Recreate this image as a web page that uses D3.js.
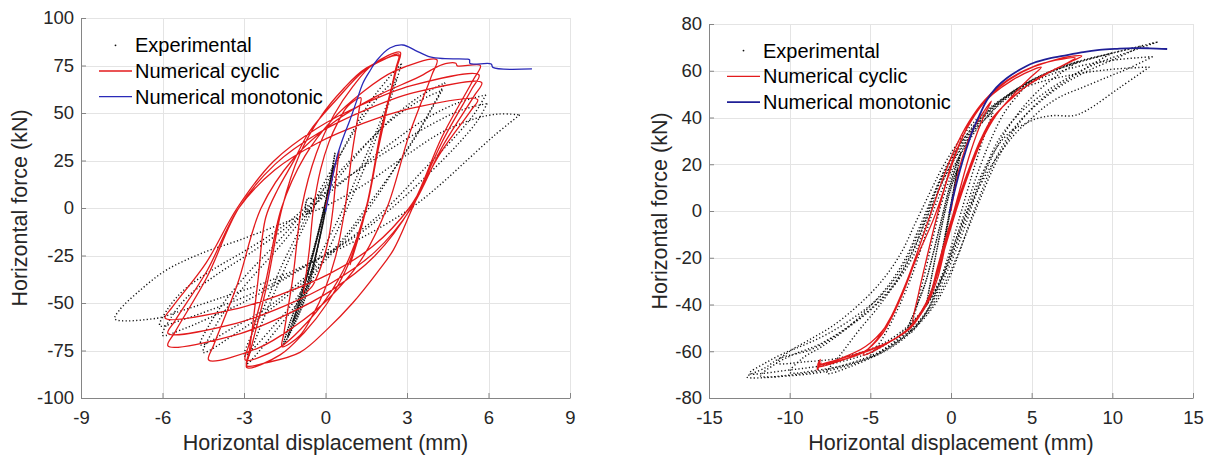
<!DOCTYPE html>
<html><head><meta charset="utf-8">
<script src="https://cdn.jsdelivr.net/npm/d3@7"></script>
<style>
html,body{margin:0;padding:0;background:#fff;}
svg{display:block;font-family:"Liberation Sans",Arial,sans-serif;}
</style></head><body>
<svg id="chart" width="1209" height="455"></svg>
<script>
// ---------- tick labels ----------
const leftXTicks = [-9,-6,-3,0,3,6,9];
const leftYTicks = [-100,-75,-50,-25,0,25,50,75,100];
const rightXTicks = [-15,-10,-5,0,5,10,15];
const rightYTicks = [-80,-60,-40,-20,0,20,40,60,80];
const legendLabels = ["Experimental","Numerical cyclic","Numerical monotonic"];
const xTitle = "Horizontal displacement (mm)";
const yTitle = "Horizontal force (kN)";

// ---------- left panel data (displacement mm, force kN) ----------
// small early cycles, densely recorded (appear almost solid)
const leftExperimentalInner = [
  [[0.35,29],[0.2,15],[0,0],[-0.25,-18],[-0.55,-38],[-0.95,-55],[-1.55,-72],[-1.3,-60],[-0.9,-44],[-0.5,-25],[-0.15,-6],[0.1,10],[0.35,29]],
  [[0.2,15],[0.05,3],[-0.2,-15],[-0.5,-33],[-0.9,-51],[-1.4,-68],[-1.1,-55],[-0.7,-37],[-0.35,-18],[-0.05,0],[0.2,15]],
  [[0.3,22],[0.12,8],[-0.15,-12],[-0.5,-32],[-0.85,-47],[-1.2,-60],[-0.95,-49],[-0.6,-32],[-0.25,-13],[0.05,5],[0.3,22]],
  [[-0.75,0],[-0.65,5],[-0.45,4.5],[-0.45,-1],[-0.65,-2],[-0.75,0]]
];
const leftExperimental = [
  [[2.8,76],[2.5,62],[2.0,42],[1.4,20],[0.8,0],[0.1,-22],[-0.8,-45],[-1.8,-64],[-2.9,-82],[-2.6,-70],[-2.1,-52],[-1.5,-32],[-0.8,-10],[0,12],[0.8,35],[1.6,55],[2.3,68],[2.8,76]],
  [[2.6,68],[2.3,56],[1.8,38],[1.2,18],[0.6,-2],[-0.1,-22],[-0.9,-44],[-1.9,-62],[-3.0,-78],[-2.7,-66],[-2.2,-50],[-1.6,-30],[-0.9,-10],[-0.1,12],[0.7,32],[1.5,50],[2.1,61],[2.6,68]],
  [[4.4,66],[4.0,55],[3.4,40],[2.6,22],[1.8,4],[0.8,-15],[-0.6,-36],[-2,-53],[-3.2,-65],[-4.5,-76],[-4.2,-66],[-3.6,-52],[-2.8,-38],[-1.8,-22],[-0.8,-5],[0.3,13],[1.4,32],[2.5,48],[3.5,59],[4.4,66]],
  [[4.3,62],[3.9,52],[3.3,37],[2.5,20],[1.6,2],[0.6,-17],[-0.8,-37],[-2.2,-53],[-3.4,-63],[-4.6,-72],[-4.3,-62],[-3.7,-49],[-2.9,-35],[-1.9,-20],[-0.9,-4],[0.2,14],[1.3,31],[2.4,46],[3.4,56],[4.3,62]],
  [[5.9,59.5],[5.5,50],[4.8,38],[3.6,20],[2.4,2],[1,-15],[-1,-33],[-2.8,-48],[-4.3,-58],[-5.2,-63.5],[-6,-67],[-5.7,-58],[-5.1,-47],[-4,-35],[-2.8,-24],[-1.5,-11],[-0.3,3],[1,18],[2.4,34],[3.7,47],[4.9,55.5],[5.9,59.5]],
  [[5.95,55],[5.6,46],[4.9,34],[3.8,18],[2.6,2],[1.2,-14],[-0.8,-31],[-2.7,-45],[-4.3,-54],[-5.3,-59],[-6.1,-62],[-5.8,-53],[-5.2,-43],[-4.1,-32],[-2.9,-22],[-1.6,-10],[-0.4,4],[1,18],[2.5,32],[3.9,44],[5,51.5],[5.95,55]],
  [[7.15,49],[6.2,38],[5.2,25],[4.2,12],[3.2,0.5],[1.8,-12],[0,-25],[-2,-38],[-4,-48],[-5.5,-55],[-6.2,-58],[-7.75,-58.4],[-7.6,-54],[-6.8,-43],[-5.85,-32.6],[-4.5,-23.5],[-3.15,-16.8],[-1.56,-8],[0,1],[1.5,13],[3,28],[4.3,40],[5.5,47],[6.4,49.5],[7.15,49]]
];
const leftCyclic = [
  [0,0],[0.25,16],[0.5,30],
  [0.478,27],[0.38,15],[0.28,0],[0.12,-15.75],[-0.08,-27],[-0.28,-35.1],[-0.5,-41.4],[-0.8,-45],
  [-0.764,-40.5],[-0.6,-22.5],[-0.44,0],[-0.18,20.3],[0.13,34.8],[0.46,45.2],[0.81,53.4],[1.3,58],
  [1.242,52.2],[0.98,29],[0.72,0],[0.37,-25.6],[-0.05,-43.8],[-0.49,-56.9],[-0.95,-67.2],[-1.6,-73],
  [-1.528,-65.7],[-1.2,-36.5],[-0.88,0],[-0.34,28.7],[0.32,49.2],[1.01,64],[1.73,75.4],[2.75,82],
  [2.626,73.8],[2.07,41],[1.51,0],[0.85,-29.4],[0.05,-50.4],[-0.78,-65.5],[-1.67,-77.3],[-2.9,-84],
  [-2.77,-75.6],[-2.18,-42],[-1.6,0],[-0.96,28],[-0.18,48],[0.64,62.4],[1.5,73.6],[2.7,80],
  [2.58,72],[2.03,40],[1.49,0],[0.82,-28],[0.02,-48],[-0.82,-62.4],[-1.71,-73.6],[-2.95,-80],
  [-2.82,-72],[-2.22,-40],[-1.62,0],[-0.76,27.3],[0.27,46.8],[1.35,60.8],[2.5,71.8],[4.1,78],
  [3.92,70.2],[3.09,39],[2.26,0],[1.28,-28],[0.09,-48],[-1.15,-62.4],[-2.46,-73.6],[-4.3,-80],
  [-4.11,-72],[-3.24,-40],[-2.37,0],[-1.16,26.3],[0.29,45],[1.83,58.5],[3.44,69],[4.3,75.5],[4.8,76.2],[4.85,74.8],[5.7,75],
  [5.44,67.5],[4.29,37.5],[3.14,0],[1.8,-25.4],[0.19,-43.6],[-1.51,-56.6],[-3.3,-66.8],[-5.8,-72.6],
  [-5.54,-65.3],[-4.36,-36.3],[-3.19,0],[-1.85,23.1],[-0.24,39.6],[1.46,51.5],[3.25,60.7],[5.75,66],
  [5.49,59.4],[4.33,33],[3.16,0],[1.82,-23.1],[0.2,-39.6],[-1.5,-51.5],[-3.29,-60.7],[-5.8,-66],
  [-5.54,-59.4],[-4.36,-33],[-3.19,0],[-1.87,20],[-0.29,34.2],[1.38,44.5],[3.14,52.4],[5.6,57],
  [5.35,51.3],[4.21,28.5],[3.08,0],[1.73,-20.3],[0.12,-34.8],[-1.59,-45.2],[-3.39,-53.4],[-5.9,-58],
  [-5.64,-52.2],[-4.4,-29],[-3.25,0],[-1.92,24.5],[-0.31,42],[1.38,54.6],[3.16,64.4],[5.65,70],
  [5.4,63],[4.3,35],[3.2,0],[2.5,-22],[1.9,-34],[1,-50],[0.05,-64],[-0.94,-76],[-2.2,-81.5],[-2.9,-83],
  [-2.8,-75],[-2.5,-40],[-2.2,-5],[-1.75,10],[-1.2,24],[-0.6,40],[0.4,57],[1.4,72],[2.2,78.5],[2.7,81],
  [2.58,73],[2.0,35],[1.4,-6],[0.9,-30]
];
const leftMonotonic = [
  [0,-2],[0.2,12],[0.42,26.8],[0.65,37],[0.9,46.3],[1.15,56.5],[1.38,65.8],[1.65,72.5],[1.9,77.9],
  [2.37,84.2],[2.85,85.8],[3.3,83],[3.85,79.5],[4.4,78.6],[5.2,78.4],[5.3,78],[5.32,76],[6.1,75.8],[6.16,74],[7.6,73.2]
];

// ---------- right panel data ----------
const rightExperimentalInner = [
  [[0.6,25],[0.3,14],[0,3],[-0.3,-8],[-0.7,-22],[-1.2,-34],[-1.9,-44],[-2.7,-51],[-2.2,-42],[-1.6,-31],[-1.1,-18],[-0.6,-4],[-0.1,10],[0.6,25]],
  [[0.4,18],[0.1,6],[-0.2,-6],[-0.6,-19],[-1.0,-30],[-1.5,-40],[-1.2,-28],[-0.8,-14],[-0.4,-1],[0,10],[0.4,18]]
];
const rightExperimental = [
  [[2.6,42],[2.1,33],[1.5,20],[0.9,6],[0.4,-6],[-0.2,-20],[-0.9,-34],[-1.6,-44],[-2.5,-52],[-2.1,-40],[-1.6,-26],[-1.1,-11],[-0.6,3],[0,15],[0.7,26],[1.6,36],[2.6,42]],
  [[5,56],[4.2,50],[3.3,42],[2.5,31],[1.8,19],[1.1,5],[0.5,-8],[-0.1,-20],[-0.8,-33],[-1.7,-45],[-3,-55],[-5,-62.5],[-4.2,-54],[-3.3,-42],[-2.5,-29],[-1.8,-15],[-1.2,-2],[-0.5,10],[0.4,22],[1.4,33],[2.6,43],[3.8,51],[5,56]],
  [[7.9,64],[6.8,59],[5.5,52],[4.3,43],[3.3,33],[2.4,21],[1.6,8],[1,-4],[0.3,-17],[-0.5,-30],[-1.4,-42],[-2.7,-52],[-4.5,-61],[-6.2,-66.5],[-7.7,-69.4],[-6.8,-61],[-5.7,-51],[-4.5,-41],[-3.3,-29],[-2.3,-16],[-1.5,-3],[-0.7,10],[0.2,22],[1.3,33],[2.6,43],[4,51],[5.6,58],[7.9,64]],
  [[10,67.6],[8.8,63],[7.3,56.5],[5.8,49],[4.5,40],[3.5,30],[2.6,18],[1.8,5],[1.1,-7],[0.4,-19],[-0.4,-31],[-1.3,-42],[-2.6,-52],[-4.3,-60.5],[-6.3,-65.5],[-8.2,-68],[-10,-69],[-9.2,-63],[-8,-58],[-6.6,-51],[-5.2,-42],[-3.9,-32],[-2.8,-20],[-1.9,-6],[-1.1,7],[-0.3,19],[0.7,30],[1.9,40],[3.4,49],[5.2,56.5],[7.4,62.5],[10,67.6]],
  [[12.3,61.6],[10.5,53],[8.4,43],[7.6,40.8],[6.3,40.8],[5.3,39.5],[4.5,37],[3.8,34.6],[2.85,27.4],[2,16],[1.3,4],[0.75,-4],[0.1,-16],[-0.6,-28],[-1.5,-40],[-2.8,-50],[-4.6,-58],[-7,-63],[-9,-64.5],[-10.8,-65],[-10,-60],[-8.75,-55],[-7.3,-49],[-5.7,-40],[-4.3,-30],[-3.1,-18],[-2.2,-5],[-1.3,8],[-0.5,19],[0.5,30],[1.7,40],[3.2,48],[5,54],[7.3,58],[9.8,60.5],[12.3,61.6]],
  [[12.5,66],[11,61],[9.7,57.3],[8.2,53],[6.75,48.8],[5.7,44],[4.9,39],[4.1,34],[3.5,29],[2.8,22.5],[2.2,16],[1.6,8],[1.2,1.7],[0.6,-9],[0,-20],[-0.8,-32],[-1.8,-43],[-3.2,-53],[-5,-60.5],[-7.5,-65.5],[-10,-68],[-12.5,-69.5],[-11.5,-65],[-10.4,-61],[-9,-57],[-7.5,-52],[-5.8,-44.5],[-4.3,-36],[-3.1,-25],[-2.2,-12.5],[-1.4,1],[-0.6,14],[0.4,26],[1.6,37],[3.1,47],[5,55],[7.4,61],[10,64.5],[12.5,66]],
  [[11.8,70.5],[10.3,65.5],[8.5,60],[6.8,53.5],[5.4,46],[4.2,38],[3.2,28],[2.4,17],[1.7,5],[1.1,-6],[0.5,-18],[-0.2,-30],[-1.1,-41],[-2.4,-51],[-4.5,-60.5],[-7.2,-67],[-9.5,-69.8],[-11.8,-70.5],[-10.9,-65.5],[-9.8,-61.5],[-8.3,-57.5],[-6.8,-51.5],[-5,-42],[-3.5,-31],[-2.4,-18],[-1.6,-4],[-0.9,9],[-0.1,21],[0.9,32],[2,41],[3.6,50],[5.4,57],[7.8,63.5],[10,67.5],[11.8,70.5]],
  [[12.8,72.3],[11,68],[9,63],[7,56],[5.3,48],[4,40],[3,31],[2.2,20],[1.4,8],[0.8,-4],[0.2,-16],[-0.5,-28],[-1.5,-40],[-2.7,-51],[-5,-62.5],[-7.7,-68.5],[-10,-70.5],[-12.65,-71],[-11.5,-67],[-10.6,-63],[-8.75,-59.5],[-7.3,-54],[-5.2,-43.6],[-3.6,-32.5],[-2.35,-19.5],[-1.5,-5],[-0.8,8],[0,20],[1,31],[2,40],[3.5,49],[5,56],[7.4,63],[10,67.6],[12.8,72.3]]
];
const rightCyclic = [
  [0,0],[0.5,18],[1.3,34],[2.5,47],
  [2.0,40],[1.2,25],[0.5,8],[-0.2,-10],[-0.8,-28],[-1.5,-40],[-2.35,-48],
  [-2.0,-35],[-1.5,-20],[-0.9,-3],[-0.3,12],[0.5,28],[1.5,42],[2.6,50],[3.8,56],[5.1,60.5],[5.6,61.5],
  [4.9,57],[3.9,50],[2.8,41],[1.9,30],[1.1,16],[0.4,2],[-0.3,-14],[-0.9,-28],[-1.6,-40],[-2.6,-50],[-3.8,-56],[-5.45,-61.6],
  [-4.6,-55],[-3.7,-45],[-2.8,-31],[-2.0,-16],[-1.3,-2],[-0.6,12],[0.2,26],[1.1,38],[2.1,47.5],[3.5,56],[5.1,61.8],[6.5,64.5],[7.7,65.5],
  [7.0,62.5],[5.5,57.3],[3.9,49],[2.6,40],[1.8,30],[1,16],[0.3,2],[-0.3,-11],[-0.87,-25],[-1.3,-36],[-1.9,-44.5],[-2.7,-51],[-4,-56.5],[-6,-61.5],[-8.25,-66],
  [-7.2,-64.5],[-5.45,-60.5],[-4.3,-53],[-3.16,-38],[-2.1,-19.5],[-1.1,-3.8],[-0.4,10],[0.12,22],[1,35.5],[2,46],[3.47,55.5],[5.1,61.6],[6.5,64.8],[7.2,65.9],[8.1,66.3],
  [7.4,63.8],[6,59],[4.4,52],[3,43],[2,32],[1.2,19],[0.5,5],[-0.1,-8],[-0.6,-20],[-1.1,-32],[-1.7,-42],[-2.5,-50],[-3.8,-56],[-5.8,-61.5],[-8.25,-66.5],
  [-8.1,-64],[-8.3,-68],[-8.05,-65],[-8.3,-67.5],[-8.1,-63.5],[-8.25,-66],
  [-7,-63.5],[-5.3,-58],[-4,-49],[-3.3,-40]
];
const rightMonotonic = [
  [-0.1,-1],[0.1,5],[0.56,17.5],[0.95,26.5],[1.36,34.7],[1.8,41.5],[2.23,47.5],[2.8,52.8],[3.47,56.9],[4.2,60.2],
  [5.1,63.3],[6.1,65.3],[7.2,66.7],[8.2,68],[9.2,68.9],[10.3,69.4],[11.3,69.7],[12.3,69.6],[13.4,69.3]
];

// ---------- drawing ----------
const svg = d3.select("#chart");
const TXT = "#262626";
const RED = "#e31a1c";

function panel(o){
  const g = svg.append("g");
  const x = d3.scaleLinear().domain(o.xDomain).range(o.xRange);
  const y = d3.scaleLinear().domain(o.yDomain).range(o.yRange);
  const gridC = "#e4e4e4";
  g.append("g").selectAll("line").data(o.xTicks).join("line")
    .attr("x1", d => Math.round(x(d))+0.5).attr("x2", d => Math.round(x(d))+0.5)
    .attr("y1", o.yRange[0]).attr("y2", o.yRange[1]).attr("stroke", gridC);
  g.append("g").selectAll("line").data(o.yTicks).join("line")
    .attr("y1", d => Math.round(y(d))+0.5).attr("y2", d => Math.round(y(d))+0.5)
    .attr("x1", o.xRange[0]).attr("x2", o.xRange[1]).attr("stroke", gridC);

  const smooth = d3.line().x(d => x(d[0])).y(d => y(d[1])).curve(d3.curveCatmullRom.alpha(0.5));
  g.append("g").selectAll("path").data(o.expInner).join("path")
    .attr("d", smooth).attr("fill","none").attr("stroke","#111")
    .attr("stroke-width",1.4).attr("stroke-dasharray","1.6 0.9");
  g.append("g").selectAll("path").data(o.exp).join("path")
    .attr("d", smooth).attr("fill","none").attr("stroke","#111")
    .attr("stroke-width",1.4).attr("stroke-dasharray","1.2 2.3");
  g.append("path").attr("d", smooth(o.cyc)).attr("fill","none")
    .attr("stroke",RED).attr("stroke-width",1.3).attr("stroke-linejoin","round");
  g.append("path").attr("d", smooth(o.mono)).attr("fill","none").attr("stroke",o.blue).attr("stroke-width",o.blueW);

  const xa = g.append("g").attr("transform",`translate(0,${o.yRange[0]})`)
    .call(d3.axisBottom(x).tickValues(o.xTicks).tickSize(-5).tickSizeOuter(0).tickPadding(13));
  const ya = g.append("g").attr("transform",`translate(${o.xRange[0]},0)`)
    .call(d3.axisLeft(y).tickValues(o.yTicks).tickSize(-5).tickSizeOuter(0).tickPadding(7));
  [xa,ya].forEach(a => {
    a.select(".domain").attr("stroke","#858585");
    a.selectAll(".tick line").attr("stroke","#858585");
    a.selectAll(".tick text").attr("fill",TXT).style("font-size","18.5px")
      .style("font-family","'Liberation Sans',Arial,sans-serif").text(d => String(d));
  });

  g.append("text").attr("x",(o.xRange[0]+o.xRange[1])/2).attr("y",450)
    .attr("text-anchor","middle").attr("fill",TXT).style("font-size","21.5px").text(xTitle);
  g.append("text").attr("transform",`translate(${o.yLabelX},${(o.yRange[0]+o.yRange[1])/2}) rotate(-90)`)
    .attr("text-anchor","middle").attr("fill",TXT).style("font-size","21.5px").text(yTitle);

  // legend
  const lg = g.append("g");
  const L = o.legend;
  lg.append("circle").attr("cx",(L.x1+L.x2)/2).attr("cy",L.y0 - 7).attr("r",0.9).attr("fill","#111");
  lg.append("line").attr("x1",L.x1).attr("x2",L.x2).attr("y1",L.y0+L.dy-7).attr("y2",L.y0+L.dy-7).attr("stroke",RED).attr("stroke-width",1.3);
  lg.append("line").attr("x1",L.x1).attr("x2",L.x2).attr("y1",L.y0+2*L.dy-7).attr("y2",L.y0+2*L.dy-7).attr("stroke",o.blue).attr("stroke-width",o.blueW);
  lg.selectAll("text").data(legendLabels).join("text")
    .attr("x",L.tx).attr("y",(d,i)=>L.y0+i*L.dy).attr("fill","#000").style("font-size","20px").text(d=>d);
}

panel({xDomain:[-9,9], yDomain:[-100,100], xRange:[81,570], yRange:[398,18],
  xTicks:leftXTicks, yTicks:leftYTicks, expInner:leftExperimentalInner, exp:leftExperimental,
  cyc:leftCyclic, mono:leftMonotonic,
  blue:"#2a2ab8", blueW:1.3, yLabelX:27,
  legend:{x1:99,x2:132,tx:135,y0:52.3,dy:25.7}});
panel({xDomain:[-15,15], yDomain:[-80,80], xRange:[709,1193], yRange:[398,24],
  xTicks:rightXTicks, yTicks:rightYTicks, expInner:rightExperimentalInner, exp:rightExperimental,
  cyc:rightCyclic, mono:rightMonotonic,
  blue:"#1f1f96", blueW:1.8, yLabelX:667,
  legend:{x1:727,x2:760,tx:763,y0:57.6,dy:25.8}});
</script>
</body></html>
